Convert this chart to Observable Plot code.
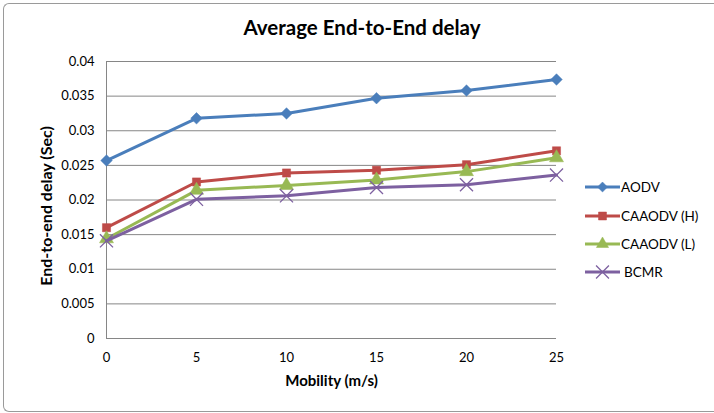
<!DOCTYPE html>
<html>
<head>
<meta charset="utf-8">
<script src="https://cdn.jsdelivr.net/npm/d3@7"></script>
<script src="https://cdn.jsdelivr.net/npm/@observablehq/plot@0.6"></script>
<style>
  html, body { margin: 0; padding: 0; background: #fff; }
  #wrap { position: relative; width: 714px; height: 413px; font-family: Lato, "Open Sans", sans-serif; }
  #border { position: absolute; left: 3px; top: 3px; width: 710px; height: 407px; border: 1px solid #9a9a9a; border-right-color: #e4e4e4; border-radius: 6px 0 0 6px; pointer-events: none; }
  #title { position: absolute; left: 0; width: 724px; top: 15px; text-align: center; font-weight: bold; font-size: 20.5px; color: #000; }
  #ytitle { position: absolute; left: 45px; top: 206px; transform: translate(-50%, -50%) rotate(-90deg); white-space: nowrap; font-weight: bold; font-size: 16px; color: #000; }
  #legend { position: absolute; left: 585px; top: 173px; font-size: 13.5px; color: #000; }
  .item { display: flex; align-items: center; height: 28.4px; }
  .item svg { margin-right: 1px; }
</style>
</head>
<body>
<div id="wrap">
  <div id="title">Average End-to-End delay</div>
  <div id="ytitle">End-to-end delay (Sec)</div>
  <div id="legend"></div>
  <div id="border"></div>
</div>
<script>
// Mobility values (m/s) on the x axis
const mobility = [0, 5, 10, 15, 20, 25];

// Average end-to-end delay (s) per protocol
const seriesNames = ["AODV", "CAAODV (H)", "CAAODV (L)", "BCMR"];
const aodv      = [0.0257, 0.0318, 0.0325, 0.0347, 0.0358, 0.0374];
const caaodvH   = [0.0160, 0.0226, 0.0239, 0.0243, 0.0251, 0.0271];
const caaodvL   = [0.0144, 0.0214, 0.0221, 0.0229, 0.0241, 0.0261];
const bcmr      = [0.0141, 0.0201, 0.0206, 0.0218, 0.0222, 0.0236];

const yTicks = [0, 0.005, 0.01, 0.015, 0.02, 0.025, 0.03, 0.035, 0.04];
const xTicks = [0, 5, 10, 15, 20, 25];

const colors  = ["#4a7ebb", "#be4b48", "#98b954", "#7d60a0"];
const symbols = ["diamond2", "square", "triangle", "times"];
const sizes   = [5.2, 4.6, 5.2, 6];

const seriesValues = [aodv, caaodvH, caaodvL, bcmr];
const rows = seriesNames.flatMap((name, i) =>
  mobility.map((m, j) => ({ series: name, idx: i, x: m, y: seriesValues[i][j] })));

const fmt = d => d === 0 ? "0" : String(d);

const marks = [
  Plot.gridY(yTicks, { stroke: "#868686", strokeOpacity: 1, strokeWidth: 1 }),
  Plot.ruleX([0], { stroke: "#868686", strokeWidth: 1 }),
  Plot.ruleY([0], { stroke: "#868686", strokeWidth: 1 }),
  Plot.axisY(yTicks, { tickSize: 0, tickPadding: 12, tickFormat: fmt, fontSize: 13, fill: "#000", label: null }),
  Plot.axisX(xTicks, { tickSize: 0, tickPadding: 14, fontSize: 13, fill: "#000", label: null }),
  Plot.text(["Mobility (m/s)"], {
    frameAnchor: "bottom", dy: 47, fontSize: 15, fontWeight: "bold", fill: "#000"
  })
];

seriesNames.forEach((name, i) => {
  const data = rows.filter(r => r.idx === i);
  marks.push(Plot.line(data, { x: "x", y: "y", stroke: colors[i], strokeWidth: 3, curve: "linear" }));
  const isStroke = symbols[i] === "times";
  marks.push(Plot.dot(data, {
    x: "x", y: "y", symbol: symbols[i], r: sizes[i],
    fill: isStroke ? "none" : colors[i],
    stroke: colors[i], strokeWidth: isStroke ? 1.3 : 0.5
  }));
});

const chart = Plot.plot({
  width: 714,
  height: 413,
  marginLeft: 106,
  marginRight: 158,
  marginTop: 61,
  marginBottom: 75,
  style: { fontFamily: "Lato, 'Open Sans', sans-serif", background: "transparent" },
  x: { domain: [0, 25] },
  y: { domain: [0, 0.04] },
  marks
});

const wrap = document.getElementById("wrap");
wrap.insertBefore(chart, wrap.firstChild);
chart.style.position = "absolute";
chart.style.left = "0";
chart.style.top = "0";

// legend built from the same series, colours and symbols
const legend = document.getElementById("legend");
seriesNames.forEach((name, i) => {
  const item = document.createElement("div");
  item.className = "item";
  const isStroke = symbols[i] === "times";
  const sym = d3.symbol().type(
    symbols[i] === "diamond2" ? d3.symbolDiamond2 :
    symbols[i] === "square" ? d3.symbolSquare :
    symbols[i] === "triangle" ? d3.symbolTriangle : d3.symbolTimes
  ).size(isStroke ? 110 : 64)();
  item.innerHTML = `<svg width="35" height="16"><line x1="0" x2="35" y1="8" y2="8" stroke="${colors[i]}" stroke-width="3"/>` +
    `<path d="${sym}" transform="translate(17.5,8)" fill="${isStroke ? "none" : colors[i]}" stroke="${colors[i]}" stroke-width="${isStroke ? 1.3 : 0.5}"/></svg>` +
    `<span style="margin-left:${isStroke ? 3 : 0}px">${name}</span>`;
  legend.appendChild(item);
});
</script>
</body>
</html>
